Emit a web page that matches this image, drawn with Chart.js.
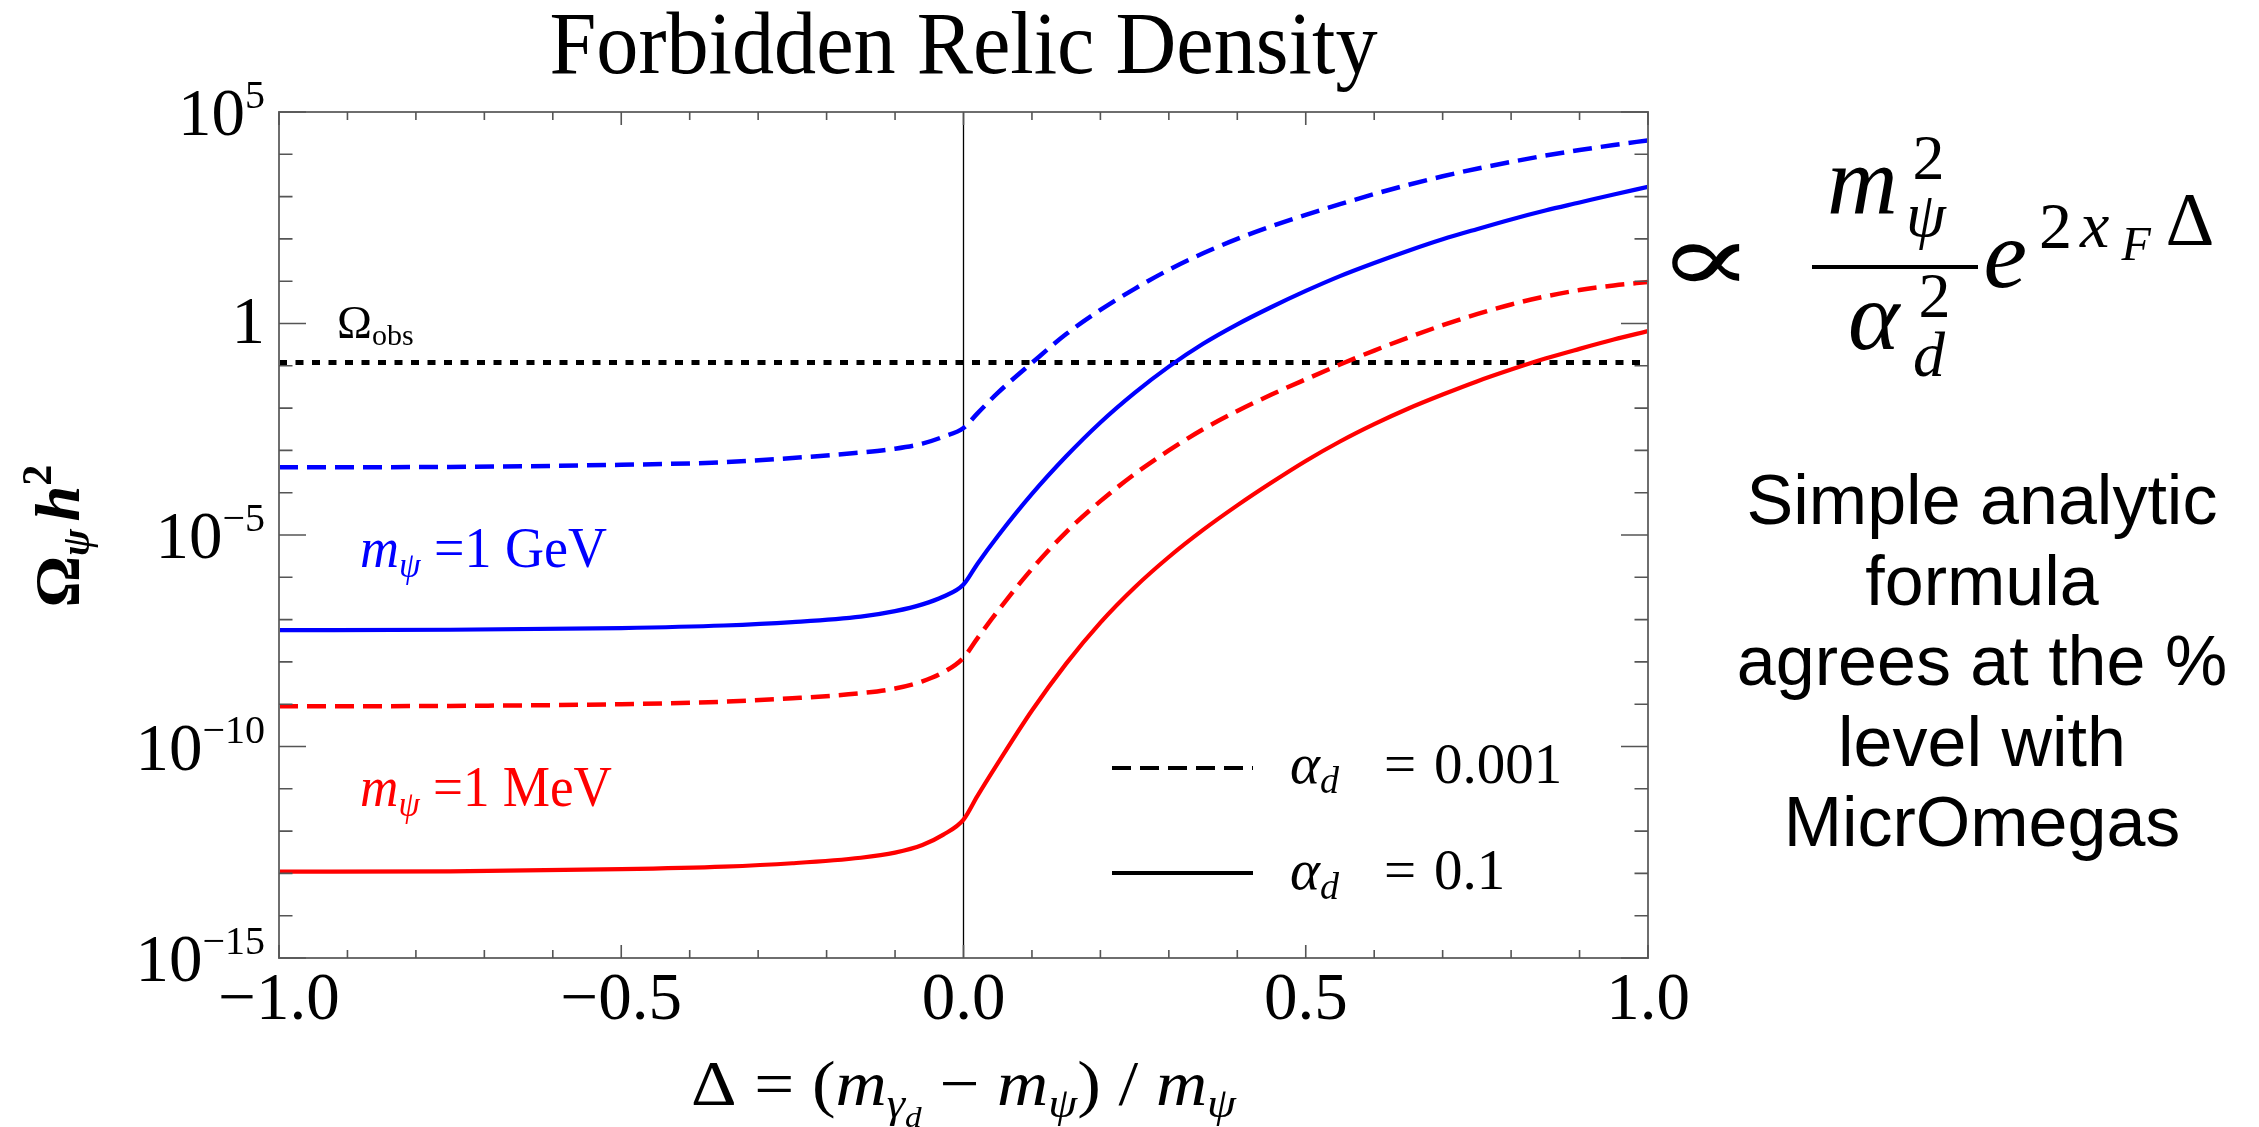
<!DOCTYPE html>
<html>
<head>
<meta charset="utf-8">
<script src="https://cdn.jsdelivr.net/npm/chart.js@4.4.1/dist/chart.umd.min.js"></script>
<style>
  html, body { margin: 0; padding: 0; background: #fff; }
  canvas { display: block; }
</style>
</head>
<body>
<canvas id="relicChart" width="2259" height="1127"></canvas>
<script>
// Delta = (m_gamma_d - m_psi) / m_psi
const delta = [-1, -0.75, -0.5, -0.35, -0.25, -0.15, -0.1, -0.06, -0.03, 0,
               0.02, 0.05, 0.1, 0.15, 0.2, 0.25, 0.3, 0.35, 0.4, 0.45, 0.5,
               0.55, 0.6, 0.65, 0.7, 0.75, 0.8, 0.85, 0.9, 0.95, 1];

// log10(Omega h^2)
const gevWeakLog = [-3.40, -3.39, -3.34, -3.28, -3.18, -3.05, -2.96, -2.84, -2.68, -2.47,
                    -2.13, -1.64, -0.93, -0.25, 0.32, 0.82, 1.27, 1.66, 2.00, 2.30, 2.57,
                    2.82, 3.06, 3.28, 3.48, 3.66, 3.82, 3.97, 4.10, 4.22, 4.33];
const gevStrongLog = [-7.25, -7.24, -7.20, -7.14, -7.06, -6.93, -6.80, -6.64, -6.46, -6.17,
                      -5.69, -5.03, -4.03, -3.14, -2.34, -1.64, -1.02, -0.48, -0.02, 0.39, 0.77,
                      1.12, 1.43, 1.72, 1.99, 2.23, 2.46, 2.67, 2.86, 3.05, 3.23];
const mevWeakLog = [-9.05, -9.04, -9.00, -8.94, -8.86, -8.74, -8.63, -8.46, -8.25, -7.90,
                    -7.45, -6.80, -5.80, -4.93, -4.20, -3.56, -3.00, -2.50, -2.07, -1.68, -1.32,
                    -0.97, -0.64, -0.33, -0.04, 0.22, 0.45, 0.64, 0.79, 0.90, 0.98];
const mevStrongLog = [-12.96, -12.95, -12.90, -12.84, -12.76, -12.63, -12.51, -12.33, -12.09, -11.73,
                      -11.18, -10.40, -9.15, -8.04, -7.07, -6.24, -5.52, -4.88, -4.30, -3.76, -3.25,
                      -2.79, -2.38, -2.01, -1.68, -1.37, -1.09, -0.83, -0.60, -0.38, -0.18];

const omegaObs = 0.12;

const xTicks = [-1, -0.5, 0, 0.5, 1];
const xTickLabels = ['\u22121.0', '\u22120.5', '0.0', '0.5', '1.0'];
const yTickExps = [5, 0, -5, -10, -15];
const yMinExp = -15;
const yMaxExp = 5;

const serif = '"Liberation Serif", "Times New Roman", serif';
const sans = '"Liberation Sans", Arial, sans-serif';
const BLUE = '#0000ff';
const RED = '#ff0000';

function toPoints(logs) {
  return delta.map((d, i) => ({ x: d, y: Math.pow(10, logs[i]) }));
}

// draw a row of text pieces (for sub/superscripts); fitWidth squeezes horizontally
function drawRuns(ctx, parts, x, y, align, fitWidth) {
  let w = 0;
  parts.forEach(p => { ctx.font = p.font; p.w = ctx.measureText(p.t).width; w += p.w; });
  const sx = fitWidth ? fitWidth / w : 1;
  let cx = align === 'center' ? -w / 2 : align === 'right' ? -w : 0;
  ctx.save();
  ctx.translate(x, y);
  ctx.scale(sx, 1);
  ctx.textAlign = 'left';
  ctx.textBaseline = 'alphabetic';
  parts.forEach(p => {
    ctx.font = p.font;
    ctx.fillStyle = p.color || '#000';
    ctx.fillText(p.t, cx, p.dy || 0);
    cx += p.w;
  });
  ctx.restore();
}

// place a glyph so that its ink is centred on (cx, cy)
function inkAt(ctx, text, font, cx, cy) {
  ctx.font = font;
  ctx.textAlign = 'left';
  ctx.textBaseline = 'alphabetic';
  const m = ctx.measureText(text);
  const x = cx - (m.actualBoundingBoxRight - m.actualBoundingBoxLeft) / 2;
  const y = cy + (m.actualBoundingBoxAscent - m.actualBoundingBoxDescent) / 2;
  ctx.fillStyle = '#000';
  ctx.fillText(text, x, y);
}

// stretch a glyph's ink into a box
function inkBox(ctx, text, font, l, t, r, b) {
  ctx.font = font;
  ctx.textAlign = 'left';
  ctx.textBaseline = 'alphabetic';
  const m = ctx.measureText(text);
  const w = m.actualBoundingBoxLeft + m.actualBoundingBoxRight;
  const h = m.actualBoundingBoxAscent + m.actualBoundingBoxDescent;
  ctx.save();
  ctx.translate(l, t);
  ctx.scale((r - l) / w, (b - t) / h);
  ctx.fillStyle = '#000';
  ctx.fillText(text, m.actualBoundingBoxLeft, m.actualBoundingBoxAscent);
  ctx.restore();
}

const framePlugin = {
  id: 'frame',
  afterDatasetsDraw(chart) {
    const { ctx, chartArea: a, scales: { x, y } } = chart;
    ctx.save();

    // frame
    ctx.strokeStyle = '#6e6e6e';
    ctx.lineWidth = 2;
    ctx.strokeRect(a.left, a.top, a.right - a.left, a.bottom - a.top);

    // inward ticks
    ctx.strokeStyle = '#555';
    ctx.lineWidth = 1.6;
    ctx.beginPath();
    for (let e = yMinExp; e <= yMaxExp; e++) {
      const py = y.getPixelForValue(Math.pow(10, e));
      const len = e % 5 === 0 ? 27 : 13.5;
      ctx.moveTo(a.left, py); ctx.lineTo(a.left + len, py);
      ctx.moveTo(a.right, py); ctx.lineTo(a.right - len, py);
    }
    for (let i = -10; i <= 10; i++) {
      const px = x.getPixelForValue(i / 10);
      const len = i % 5 === 0 ? 13 : 8;
      ctx.moveTo(px, a.bottom); ctx.lineTo(px, a.bottom - len);
      ctx.moveTo(px, a.top); ctx.lineTo(px, a.top + len);
    }
    ctx.stroke();

    // y tick labels
    yTickExps.forEach(e => {
      const py = y.getPixelForValue(Math.pow(10, e));
      if (e === 0) {
        drawRuns(ctx, [{ t: '1', font: `67px ${serif}` }], 265, py + 19, 'right');
      } else {
        const sup = String(e).replace('-', '\u2212');
        drawRuns(ctx, [
          { t: '10', font: `67px ${serif}` },
          { t: sup, font: `40px ${serif}`, dy: -27 }
        ], 265, py + 23, 'right');
      }
    });

    // x tick labels
    xTicks.forEach((v, i) => {
      const px = x.getPixelForValue(v);
      drawRuns(ctx, [{ t: xTickLabels[i], font: `67px ${serif}` }], px, 1019, 'center');
    });

    // title
    drawRuns(ctx, [{ t: 'Forbidden Relic Density', font: `89px ${serif}` }],
      (a.left + a.right) / 2, 73, 'center', 828);

    // x axis title
    drawRuns(ctx, [
      { t: '\u0394 = (', font: `64px ${serif}` },
      { t: 'm', font: `italic 64px ${serif}` },
      { t: '\u03b3', font: `italic 42px ${serif}`, dy: 12 },
      { t: 'd', font: `italic 30px ${serif}`, dy: 22 },
      { t: ' \u2212 ', font: `64px ${serif}` },
      { t: 'm', font: `italic 64px ${serif}` },
      { t: '\u03c8', font: `italic 42px ${serif}`, dy: 12 },
      { t: ') / ', font: `64px ${serif}` },
      { t: 'm', font: `italic 64px ${serif}` },
      { t: '\u03c8', font: `italic 42px ${serif}`, dy: 12 }
    ], (a.left + a.right) / 2, 1105, 'center', 545);

    // y axis title (rotated)
    ctx.save();
    ctx.translate(79, 536);
    ctx.rotate(-Math.PI / 2);
    drawRuns(ctx, [
      { t: '\u03a9', font: `bold 64px ${serif}` },
      { t: '\u03c8', font: `bold italic 40px ${serif}`, dy: 10 },
      { t: ' ', font: `bold 30px ${serif}` },
      { t: 'h', font: `bold italic 64px ${serif}` },
      { t: '2', font: `bold 42px ${serif}`, dy: -28 }
    ], 0, 0, 'center', 143);
    ctx.restore();

    // curve labels
    drawRuns(ctx, [
      { t: 'm', font: `italic 56px ${serif}`, color: BLUE },
      { t: '\u03c8', font: `italic 36px ${serif}`, dy: 10, color: BLUE },
      { t: ' =1 GeV', font: `56px ${serif}`, color: BLUE }
    ], 360, 567, 'left', 247);
    drawRuns(ctx, [
      { t: 'm', font: `italic 56px ${serif}`, color: RED },
      { t: '\u03c8', font: `italic 36px ${serif}`, dy: 10, color: RED },
      { t: ' =1 MeV', font: `56px ${serif}`, color: RED }
    ], 360, 806, 'left', 252);

    // Omega_obs label
    drawRuns(ctx, [
      { t: '\u03a9', font: `47px ${serif}` },
      { t: 'obs', font: `30px ${serif}`, dy: 7 }
    ], 337, 338, 'left');

    // legend
    ctx.strokeStyle = '#000';
    ctx.lineWidth = 4;
    ctx.setLineDash([19, 9]);
    ctx.beginPath(); ctx.moveTo(1112, 768); ctx.lineTo(1253, 768); ctx.stroke();
    ctx.setLineDash([]);
    ctx.beginPath(); ctx.moveTo(1112, 873); ctx.lineTo(1253, 873); ctx.stroke();
    [[783, '0.001'], [889, '0.1']].forEach(([by, val]) => {
      drawRuns(ctx, [
        { t: '\u03b1', font: `italic 57px ${serif}` },
        { t: 'd', font: `italic 38px ${serif}`, dy: 10 }
      ], 1290, by, 'left');
      drawRuns(ctx, [{ t: '=', font: `57px ${serif}` }], 1384, by, 'left');
      drawRuns(ctx, [{ t: val, font: `57px ${serif}` }], 1434, by, 'left');
    });

    // proportionality formula
    inkBox(ctx, '\u221d', `80px "DejaVu Serif", serif`, 1671, 243, 1740, 282);
    inkAt(ctx, 'm', `italic 98px ${serif}`, 1862, 190);
    inkAt(ctx, '2', `64px ${serif}`, 1928, 158);
    inkAt(ctx, '\u03c8', `italic 64px ${serif}`, 1928, 224);
    ctx.fillStyle = '#000';
    ctx.fillRect(1812, 265, 166, 4);
    inkAt(ctx, '\u03b1', `italic 98px ${serif}`, 1876, 326);
    inkAt(ctx, '2', `64px ${serif}`, 1934, 296);
    inkAt(ctx, 'd', `italic 64px ${serif}`, 1930, 354);
    inkAt(ctx, 'e', `italic 98px ${serif}`, 2006, 264);
    inkAt(ctx, '2', `66px ${serif}`, 2055, 226);
    inkAt(ctx, 'x', `italic 66px ${serif}`, 2094, 232);
    inkAt(ctx, 'F', `italic 48px ${serif}`, 2136, 244);
    inkAt(ctx, '\u0394', `76px ${serif}`, 2190, 220);

    // side note
    const note = ['Simple analytic', 'formula', 'agrees at the %', 'level with', 'MicrOmegas'];
    note.forEach((line, i) => {
      drawRuns(ctx, [{ t: line, font: `70px ${sans}` }], 1982, 524 + i * 80.5, 'center');
    });

    ctx.restore();
  }
};

new Chart(document.getElementById('relicChart').getContext('2d'), {
  type: 'line',
  data: {
    datasets: [
      {
        label: 'm = 1 GeV, alpha = 0.001',
        data: toPoints(gevWeakLog),
        borderColor: BLUE,
        borderWidth: 4.5,
        borderDash: [19, 9],
        cubicInterpolationMode: 'monotone',
        pointRadius: 0
      },
      {
        label: 'm = 1 GeV, alpha = 0.1',
        data: toPoints(gevStrongLog),
        borderColor: BLUE,
        borderWidth: 4.2,
        cubicInterpolationMode: 'monotone',
        pointRadius: 0
      },
      {
        label: 'm = 1 MeV, alpha = 0.001',
        data: toPoints(mevWeakLog),
        borderColor: RED,
        borderWidth: 4.5,
        borderDash: [19, 9],
        cubicInterpolationMode: 'monotone',
        pointRadius: 0
      },
      {
        label: 'm = 1 MeV, alpha = 0.1',
        data: toPoints(mevStrongLog),
        borderColor: RED,
        borderWidth: 4.2,
        cubicInterpolationMode: 'monotone',
        pointRadius: 0
      },
      {
        label: 'Omega obs',
        data: [{ x: -1, y: omegaObs }, { x: 1, y: omegaObs }],
        borderColor: '#000',
        borderWidth: 5,
        borderDash: [8, 8.5],
        tension: 0,
        pointRadius: 0
      },
      {
        label: 'Delta = 0',
        data: [{ x: 0, y: Math.pow(10, yMinExp) }, { x: 0, y: Math.pow(10, yMaxExp) }],
        borderColor: '#000',
        borderWidth: 1.3,
        tension: 0,
        pointRadius: 0
      }
    ]
  },
  options: {
    responsive: false,
    devicePixelRatio: 1,
    animation: false,
    layout: { padding: { left: 279, top: 112, right: 611, bottom: 169 } },
    plugins: {
      legend: { display: false },
      tooltip: { enabled: false },
      title: { display: false }
    },
    scales: {
      x: { type: 'linear', min: -1, max: 1, display: false },
      y: { type: 'logarithmic', min: Math.pow(10, yMinExp), max: Math.pow(10, yMaxExp), display: false }
    }
  },
  plugins: [framePlugin]
});
</script>
</body>
</html>
